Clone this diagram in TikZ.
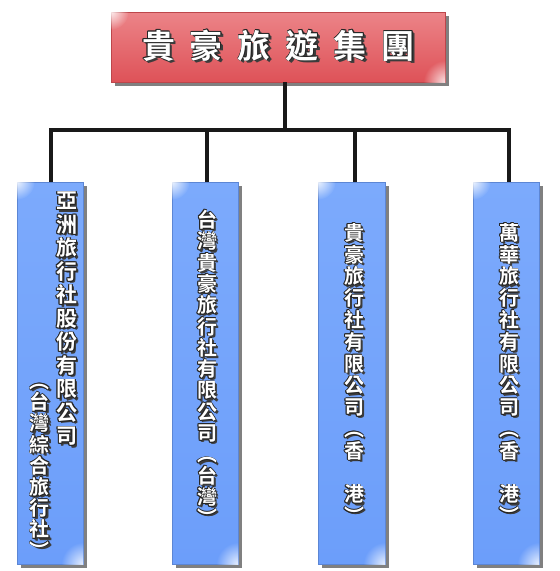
\documentclass[tikz,border=0pt]{standalone}
\usepackage{fontspec}
\newfontfamily\cjk{Noto Sans CJK TC Bold}
\usetikzlibrary{fadings}
\definecolor{boxtop}{RGB}{124,170,252}
\definecolor{boxbot}{RGB}{108,158,250}
\definecolor{titletop}{RGB}{236,132,136}
\definecolor{titlebot}{RGB}{222,82,88}
\definecolor{shadowgray}{RGB}{128,128,128}
\definecolor{textshadow}{RGB}{60,60,60}
\tikzfading[name=glow, inner color=transparent!15, outer color=transparent!100]
\tikzset{
  bluebox/.style={inner sep=0pt, top color=boxtop, bottom color=boxbot, draw=boxbot!85!black, line width=0.5pt},
  titlebox/.style={inner sep=0pt, top color=titletop, bottom color=titlebot, draw=titlebot!85!black, line width=0.5pt},
  boxshadow/.style={fill=shadowgray},
  conn/.style={line width=4pt, black!90, line join=miter},
  connshadow/.style={line width=4pt, shadowgray, line join=miter},
  vtext/.style={inner sep=0pt, anchor=north, align=center},
}
\newcommand\glowtext[4]{%
  \foreach \dx/\dy in {1.5/1.5,2.2/2.2} {\node[#3,text=textshadow] at ([shift={(\dx,\dy)}]#2) {#4};}
  \foreach \dx/\dy in {0.8/0,-0.8/0,0/0.8,0/-0.8,0.6/0.6,-0.6/0.6,0.6/-0.6,-0.6/-0.6} {\node[#3,text=black!85] at ([shift={(\dx,\dy)}]#2) {#4};}
  \node[#3,text=white] (#1) at (#2) {#4};
}
\newcommand\glowcorners[1]{%
  \begin{scope}
    \clip (#1.south west) rectangle (#1.north east);
    \fill[white, path fading=glow] (#1.north west) circle (18);
    \fill[white, path fading=glow] (#1.south east) circle (22);
  \end{scope}
}
\begin{document}
\begin{tikzpicture}[x=1pt,y=-1pt]
\useasboundingbox (0,0) rectangle (560,571);
% junction coordinates
\coordinate (j0) at (285,130);
\coordinate (j1) at (51,130);
\coordinate (j2) at (207,130);
\coordinate (j3) at (355,130);
\coordinate (j4) at (509,130);
% box shadows
\fill[boxshadow] (115,16) rectangle (449,86);
\fill[boxshadow] (21,186) rectangle (87,568);
\fill[boxshadow] (176,186) rectangle (242,568);
\fill[boxshadow] (322,186) rectangle (389,568);
\fill[boxshadow] (477,186) rectangle (543,568);
% boxes
\node[titlebox, minimum width=334pt, minimum height=70pt] (title) at (278,47) {};
\node[bluebox, minimum width=66pt, minimum height=382pt] (b1) at (50,373) {};
\node[bluebox, minimum width=66pt, minimum height=382pt] (b2) at (205,373) {};
\node[bluebox, minimum width=67pt, minimum height=382pt] (b3) at (351.5,373) {};
\node[bluebox, minimum width=66pt, minimum height=382pt] (b4) at (506,373) {};
\glowcorners{title}
\glowcorners{b1}
\glowcorners{b2}
\glowcorners{b3}
\glowcorners{b4}
% connectors
\begin{scope}[shift={(2,2)}]
\draw[connshadow] (title.south -| j0) -- (j0);
\draw[connshadow] (b1.north -| j1) -- (j1) -- (j4) -- (b4.north -| j4);
\draw[connshadow] (j2) -- (b2.north -| j2);
\draw[connshadow] (j3) -- (b3.north -| j3);
\end{scope}
\draw[conn] (title.south -| j0) -- (j0);
\draw[conn] (b1.north -| j1) -- (j1) -- (j4) -- (b4.north -| j4);
\draw[conn] (j2) -- (b2.north -| j2);
\draw[conn] (j3) -- (b3.north -| j3);
% texts
\glowtext{t0}{278.5,45.5}{inner sep=0pt, font=\cjk\fontsize{33}{36}\selectfont}{貴\hspace{15pt}豪\hspace{15pt}旅\hspace{15pt}遊\hspace{15pt}集\hspace{15pt}團}
\glowtext{t1a}{67,192}{vtext, font=\cjk\fontsize{21}{23.5}\selectfont}{亞\\洲\\旅\\行\\社\\股\\份\\有\\限\\公\\司}
\glowtext{t1b}{40,371}{vtext, font=\cjk\fontsize{20}{21.2}\selectfont}{\vphantom{台}︵\\台\\灣\\綜\\合\\旅\\行\\社\\︶}
\glowtext{t2}{207,210}{vtext, font=\cjk\fontsize{20}{21.3}\selectfont}{台\\灣\\貴\\豪\\旅\\行\\社\\有\\限\\公\\司\\︵\\台\\灣\\︶}
\glowtext{t3}{354,223}{vtext, font=\cjk\fontsize{20}{21.8}\selectfont}{貴\\豪\\旅\\行\\社\\有\\限\\公\\司\\︵\\香\\\mbox{}\\港\\︶}
\glowtext{t4}{509,223}{vtext, font=\cjk\fontsize{20}{21.8}\selectfont}{萬\\華\\旅\\行\\社\\有\\限\\公\\司\\︵\\香\\\mbox{}\\港\\︶}
\end{tikzpicture}
\end{document}
